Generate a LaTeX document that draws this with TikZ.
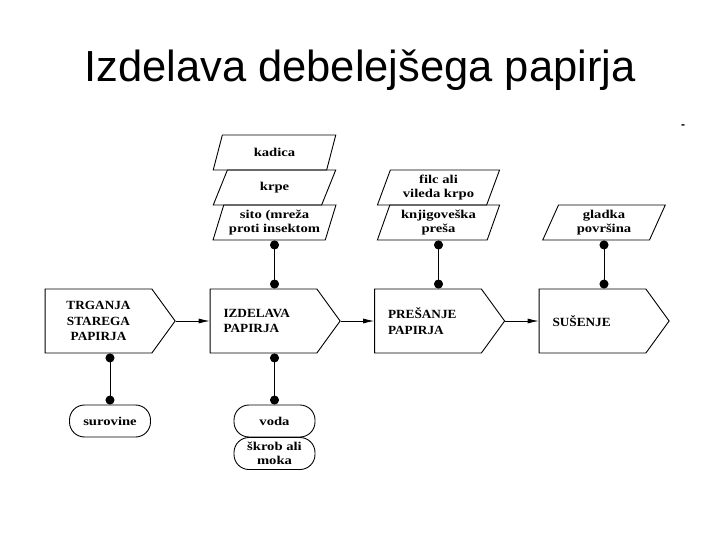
\documentclass[tikz,border=0pt]{standalone}
\usepackage{fontspec}
\setmainfont{Liberation Serif}
\newfontfamily\titlefont{Liberation Sans}
\newfontfamily\lblfont[FakeStretch=1.22]{Liberation Serif}
\newfontfamily\procfont[FakeStretch=1.06]{Liberation Serif}
\usetikzlibrary{shapes.geometric,shapes.symbols,arrows.meta,calc}
\begin{document}
\begin{tikzpicture}[x=1pt,y=-1pt,
  every node/.style={inner sep=1pt},
  para/.style={draw,line width=0.9pt,trapezium,trapezium left angle=70,trapezium right angle=110,
     trapezium stretches=true,minimum width=123pt,minimum height=35pt,align=center,
     font=\lblfont\bfseries\fontsize{12}{14}\selectfont},
  proc/.style={draw,line width=0.9pt,signal,signal to=east,signal from=nowhere,signal pointer angle=108,
     minimum width=130pt,minimum height=64pt,text width=80pt,align=left,
     font=\procfont\bfseries\fontsize{12.5}{15.5}\selectfont},
  oval/.style={draw,line width=0.9pt,rounded corners=15pt,minimum width=81pt,minimum height=32pt,
     align=center,font=\lblfont\bfseries\fontsize{12}{14}\selectfont},
  conn/.style={line width=0.9pt,{Circle[length=9pt]}-{Circle[length=9pt]}},
  flow/.style={line width=0.8pt,-{Latex[length=11pt,width=5pt]}}]
\useasboundingbox (0,0) rectangle (720,540);
\fill[white] (0,0) rectangle (720,540);
\node[anchor=base,inner sep=0,font=\titlefont\fontsize{43.5}{50}\selectfont] (title) at (360,82) {Izdelava debelejšega papirja};
\node[inner sep=0,font=\titlefont\bfseries\fontsize{12}{12}\selectfont] (dash) at (683,127) {-};
% inputs
\node[para] (kadica) at (274.5,152.5) {kadica};
\node[para] (krpe) at (274.5,187.5) {krpe};
\node[para] (sito) at (274.5,222.5) {sito (mreža\\proti insektom};
\node[para] (filc) at (438.5,187.5) {filc ali\\vileda krpo};
\node[para] (presa) at (438.5,222.5) {knjigoveška\\preša};
\node[para] (gladka) at (604,222.5) {gladka\\površina};
% processes
\node[proc,align=center] (trg) at (98.5,321) {TRGANJA\\STAREGA\\PAPIRJA};
\node[proc] (izd) at (263.5,321) {IZDELAVA\\PAPIRJA};
\node[proc] (pres) at (428,321) {PREŠANJE\\PAPIRJA};
\node[proc] (sus) at (592.5,321) {SUŠENJE};
% outputs
\node[oval] (surovine) at (110,421) {surovine};
\node[oval] (voda) at (274.5,421) {voda};
\node[oval] (skrob) at (274.5,453.5) {škrob ali\\moka};
% connectors
\draw[conn] (sito.south) -- (sito.south |- izd.north);
\draw[conn] (presa.south) -- (presa.south |- pres.north);
\draw[conn] (gladka.south) -- (gladka.south |- sus.north);
\draw[conn] (trg.south -| surovine.north) -- (surovine.north);
\draw[conn] (voda.north |- izd.south) -- (voda.north);
\draw[flow] (trg.east) -- (izd.west);
\draw[flow] (izd.east) -- (pres.west);
\draw[flow] (pres.east) -- (sus.west);
\end{tikzpicture}
\end{document}
